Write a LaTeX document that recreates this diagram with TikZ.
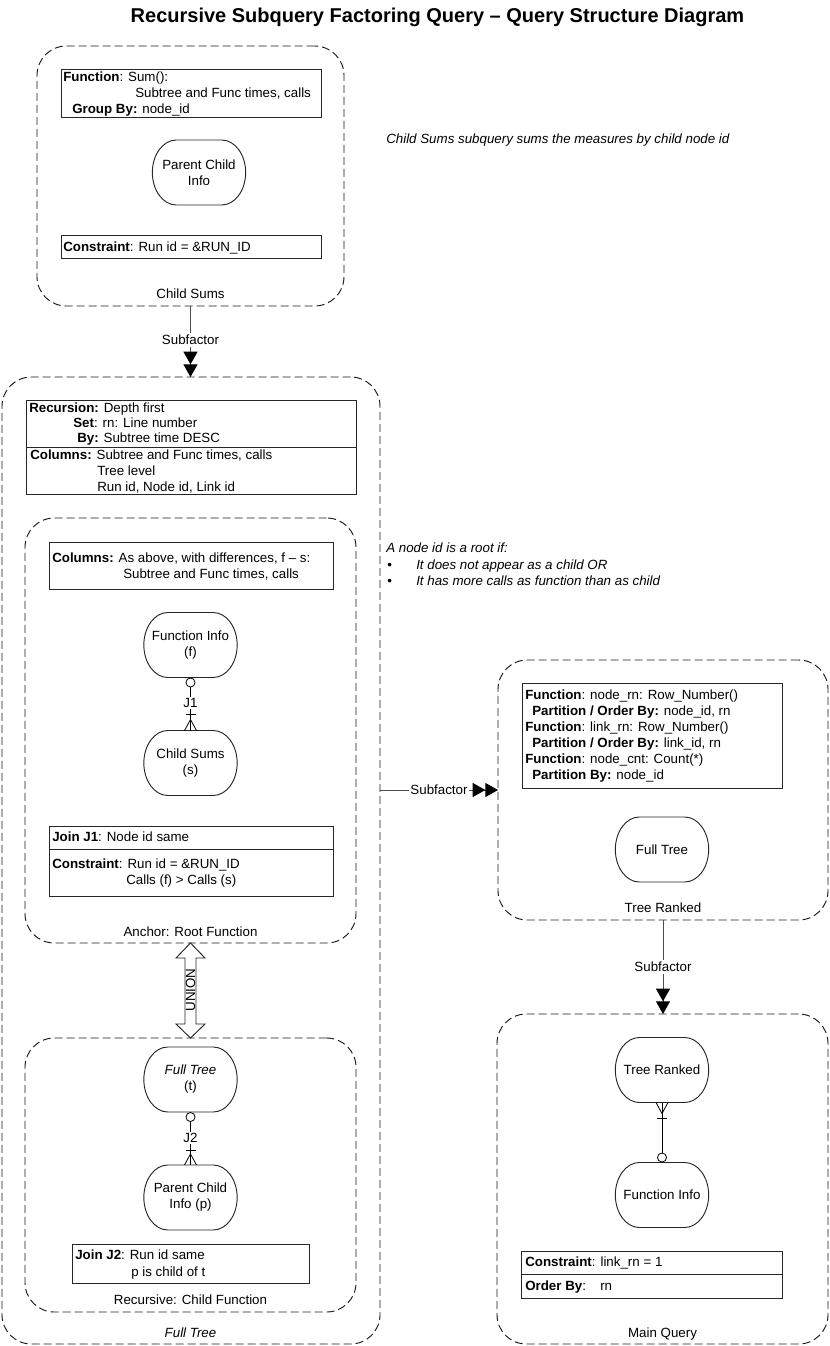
\documentclass[tikz,border=0pt]{standalone}
\usepackage{fontspec}
\setmainfont{Liberation Sans}
\usetikzlibrary{arrows.meta,calc,fit}
\newcommand{\entnode}[4]{%
  \node[ent] (#1) at (#2,#3) {#4};
  \draw[entline] ([xshift=-17pt]#1.north) -- ([xshift=17pt]#1.north)
    arc[start angle=90,end angle=-90,x radius=18pt,y radius=24.375pt]
    -- ([xshift=-17pt]#1.south)
    arc[start angle=270,end angle=90,x radius=18pt,y radius=24.375pt] -- cycle;}
\begin{document}
\fontsize{10pt}{12pt}\selectfont
\begin{tikzpicture}[x=0.75pt,y=-0.75pt,
  dbox/.style={draw=black!90, dash pattern=on 6pt off 3pt, rounded corners=22pt, inner sep=0pt, outer sep=0pt, line width=0.7pt},
  sbox/.style={draw=black!85, inner sep=0pt, outer sep=0pt, line width=0.75pt},
  txt/.style={anchor=base west, inner sep=0pt},
  lbl/.style={anchor=base, inner sep=0pt},
  ent/.style={align=center, inner sep=0pt, outer sep=0pt, minimum width=70pt, minimum height=48.75pt},
  entline/.style={draw=black!85, line width=0.7pt},
  erline/.style={draw=black, line width=0.6pt},
  conn/.style={draw=black!70, line width=0.75pt},
  sub/.style={fill=white, inner sep=1.5pt},
  dtri/.style={-{Triangle[length=9.5pt,width=10.5pt,fill=black,color=black]Triangle[length=9.5pt,width=10.5pt,fill=black,color=black]}},
]
\useasboundingbox (0,0) rectangle (829,1346);

% title
\node[anchor=base, font=\bfseries\fontsize{15pt}{18pt}\selectfont] (title) at (437.5,22) {Recursive Subquery Factoring Query – Query Structure Diagram};

% ---------------- Child Sums
\node[dbox, fit={(37,46)(344,306)}] (childsums) {};
\node[sbox, fit={(61,69)(321,117)}] (csfunc) {};
\node[txt] (csf1) at (63,81) {\textbf{Function}: Sum():};
\node[txt] (csf2) at (135,97) {Subtree and Func times, calls};
\node[txt] (csf3) at (72,113) {\textbf{Group By:} node\_id};
\entnode{pci}{199}{172.5}{Parent Child\\Info}
\node[sbox, fit={(61,235)(321,258)}] (cscons) {};
\node[txt] (csc1) at (63,251) {\textbf{Constraint}: Run id = \&RUN\_ID};
\node[lbl] (cslbl) at (190.5,298) {Child Sums};

\node[txt, font=\itshape] (note1) at (386,143) {Child Sums subquery sums the measures by child node id};

% ---------------- Full Tree
\node[dbox, fit={(2,377)(380,1344)}] (fulltree) {};
\draw[conn, dtri] (childsums.south) -- (childsums.south |- fulltree.north) node[sub, pos=0.48] (sf1) {Subfactor};

\node[sbox, fit={(26,400)(356,447)}] (recbox) {};
\node[sbox, fit={(26,447)(356,494)}] (colbox) {};
\node[txt] (r1) at (29,412) {\textbf{Recursion:} Depth first};
\node[txt] (r2) at (73,427) {\textbf{Set}: rn: Line number};
\node[txt] (r3) at (77,442) {\textbf{By:} Subtree time DESC};
\node[txt] (c1) at (30,459) {\textbf{Columns:} Subtree and Func times, calls};
\node[txt] (c2) at (97,475) {Tree level};
\node[txt] (c3) at (97,491) {Run id, Node id, Link id};

% Anchor
\node[dbox, fit={(25,518)(356,943)}] (anchor) {};
\node[sbox, fit={(49,542)(333,589)}] (ancols) {};
\node[txt] (ac1) at (52,562) {\textbf{Columns:} As above, with differences, f – s:};
\node[txt] (ac2) at (123,578) {Subtree and Func times, calls};
\entnode{fi}{190.5}{645}{Function Info\\(f)}
\entnode{cs}{190.5}{763}{Child Sums\\(s)}
\draw[erline] (fi.south) -- (cs.north) node[sub, pos=0.48, inner sep=1pt] (j1) {J1};
\draw[erline, fill=white] ($(fi.south)+(0,5)$) circle[radius=3.4pt];
\draw[erline] ($(cs.north)+(-5,-16)$) -- ($(cs.north)+(5,-16)$);
\draw[erline] ($(cs.north)+(-6,0)$) -- ($(cs.north)+(0,-11)$) -- ($(cs.north)+(6,0)$);
\node[sbox, fit={(49,826)(333,849)}] (j1a) {};
\node[sbox, fit={(49,849)(333,896)}] (j1b) {};
\node[txt] (j1t1) at (52,841) {\textbf{Join J1}: Node id same};
\node[txt] (j1t2) at (52,868) {\textbf{Constraint}: Run id = \&RUN\_ID};
\node[txt] (j1t3) at (126,884) {Calls (f) > Calls (s)};
\node[lbl] (anlbl) at (190.5,936) {Anchor: Root Function};

% UNION arrow
\draw[line width=0.7pt, draw=black!85, fill=white] (190.5,943) -- (205,958) -- (196,958) -- (196,1024) -- (205,1024) -- (190.5,1038) -- (176,1024) -- (185,1024) -- (185,958) -- (176,958) -- cycle;
\node[rotate=90, inner sep=0pt] (union) at (190.5,990) {UNION};

% Recursive
\node[dbox, fit={(25,1038)(356,1312)}] (recur) {};
\entnode{ft}{190.5}{1079.5}{\textit{Full Tree}\\(t)}
\entnode{pc}{190.5}{1197.5}{Parent Child\\Info (p)}
\draw[erline] (ft.south) -- (pc.north) node[sub, pos=0.49, inner sep=1pt] (j2) {J2};
\draw[erline, fill=white] ($(ft.south)+(0,5)$) circle[radius=3.4pt];
\draw[erline] ($(pc.north)+(-5,-15)$) -- ($(pc.north)+(5,-15)$);
\draw[erline] ($(pc.north)+(-6,0)$) -- ($(pc.north)+(0,-11)$) -- ($(pc.north)+(6,0)$);
\node[sbox, fit={(72,1244)(309,1283)}] (j2box) {};
\node[txt] (j2t1) at (75,1259) {\textbf{Join J2}: Run id same};
\node[txt] (j2t2) at (131,1276) {p is child of t};
\node[lbl] (reclbl) at (190.5,1304) {Recursive: Child Function};
\node[lbl, font=\itshape] (ftlbl) at (190.5,1337) {Full Tree};

% notes
\node[txt, font=\itshape] (note2) at (386,552) {A node id is a root if:};
\node[txt] (b1) at (387,569) {•};
\node[txt, font=\itshape] (b1t) at (416,569) {It does not appear as a child OR};
\node[txt] (b2) at (387,585) {•};
\node[txt, font=\itshape] (b2t) at (416,585) {It has more calls as function than as child};

% ---------------- Tree Ranked
\node[dbox, fit={(498,660)(828,920)}] (tranked) {};
\draw[conn, dtri] (tranked.west -| fulltree.east) -- (tranked.west) node[sub, pos=0.5, inner sep=1pt] (sf2) {Subfactor};
\node[sbox, fit={(522,683)(782,788)}] (trfunc) {};
\node[txt] (t1) at (525,699) {\textbf{Function}: node\_rn: Row\_Number()};
\node[txt] (t2) at (532,715) {\textbf{Partition / Order By:} node\_id, rn};
\node[txt] (t3) at (525,731) {\textbf{Function}: link\_rn: Row\_Number()};
\node[txt] (t4) at (532,747) {\textbf{Partition / Order By:} link\_id, rn};
\node[txt] (t5) at (525,763) {\textbf{Function}: node\_cnt: Count(*)};
\node[txt] (t6) at (532,779) {\textbf{Partition By:} node\_id};
\entnode{trft}{662}{849.5}{Full Tree}
\node[lbl] (trlbl) at (663,912) {Tree Ranked};

% ---------------- Main Query
\node[dbox, fit={(497,1014)(828,1344)}] (mainq) {};
\draw[conn, dtri] (tranked.south) -- (tranked.south |- mainq.north) node[sub, pos=0.5] (sf3) {Subfactor};
\entnode{mtr}{662}{1070}{Tree Ranked}
\entnode{mfi}{662}{1195}{Function Info}
\draw[erline] (mtr.south) -- (mfi.north);
\draw[erline] ($(mtr.south)+(-6,0)$) -- ($(mtr.south)+(0,11)$) -- ($(mtr.south)+(6,0)$);
\draw[erline] ($(mtr.south)+(-5,16)$) -- ($(mtr.south)+(5,16)$);
\draw[erline, fill=white] ($(mfi.north)+(0,-5)$) circle[radius=3.4pt];
\node[sbox, fit={(521,1251)(782,1274)}] (mqa) {};
\node[sbox, fit={(521,1274)(782,1298)}] (mqb) {};
\node[txt] (mq1) at (525,1266) {\textbf{Constraint}: link\_rn = 1};
\node[txt] (mq2) at (525,1290) {\textbf{Order By}:};
\node[txt] (mq3) at (600,1290) {rn};
\node[lbl] (mqlbl) at (662.5,1337) {Main Query};
\end{tikzpicture}
\end{document}
